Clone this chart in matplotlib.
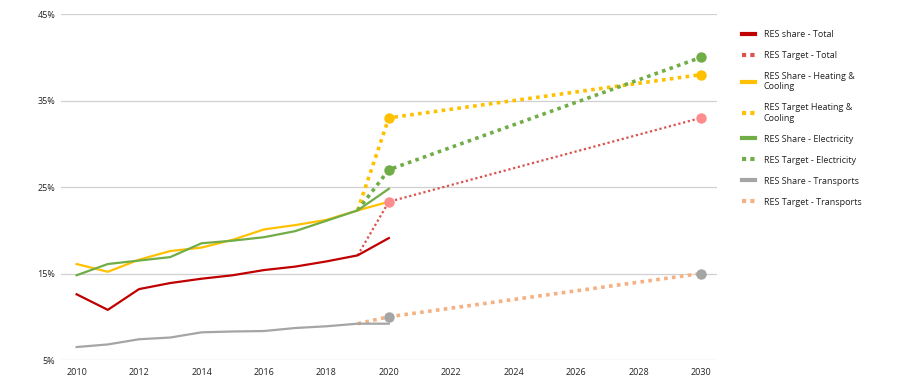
import matplotlib
matplotlib.use("Agg")
import matplotlib.pyplot as plt
import numpy as np
from matplotlib.lines import Line2D

plt.rcParams['font.family'] = ['Open Sans', 'DejaVu Sans']

years = list(range(2010, 2021))
share_total = [12.6, 10.8, 13.2, 13.9, 14.4, 14.8, 15.4, 15.8, 16.4, 17.1, 19.1]
share_heat = [16.1, 15.2, 16.6, 17.6, 18.0, 18.9, 20.1, 20.6, 21.2, 22.3, 23.3]
share_elec = [14.8, 16.1, 16.5, 16.9, 18.5, 18.8, 19.2, 19.9, 21.1, 22.3, 24.8]
share_trans = [6.5, 6.8, 7.4, 7.6, 8.2, 8.3, 8.35, 8.7, 8.9, 9.2, 9.2]

target_years = [2019, 2020, 2030]
target_total = [17.1, 23.3, 33.0]
target_heat = [22.3, 33.0, 38.0]
target_elec = [22.3, 27.0, 40.0]
target_trans = [9.2, 10.0, 15.0]

labels = ["RES share - Total", "RES Target - Total", "RES Share - Heating &\nCooling",
          "RES Target Heating &\nCooling", "RES Share - Electricity", "RES Target - Electricity",
          "RES Share - Transports", "RES Target - Transports"]

c_total = "#C00000"
c_total_t = "#D9534F"
c_total_m = "#FF8C8C"
c_heat = "#FFC000"
c_elec = "#70AD47"
c_trans = "#A5A5A5"
c_trans_t = "#F4B183"

fig = plt.figure(figsize=(8.97, 3.92), dpi=100)
ax = fig.add_axes([0.068, 0.0816, 0.731, 0.8825])

lw = 1.6
dot = (0, (1, 1.2))
ax.plot(years, share_total, color=c_total, lw=lw, zorder=3)
ax.plot(years, share_heat, color=c_heat, lw=lw, zorder=3)
ax.plot(years, share_elec, color=c_elec, lw=lw, zorder=3)
ax.plot(years, share_trans, color=c_trans, lw=lw, zorder=3)

def target(vals, lcolor, mcolor, w):
    ax.plot(target_years, vals, color=lcolor, lw=w, linestyle=dot, dash_capstyle='butt', zorder=2)
    ax.plot(target_years[1:], vals[1:], linestyle='none', marker='o', markersize=7.5,
            color=mcolor, markeredgewidth=0, zorder=4)

target(target_total, c_total_t, c_total_m, 1.6)
target(target_heat, c_heat, c_heat, 2.6)
target(target_elec, c_elec, c_elec, 2.6)
target(target_trans, c_trans_t, c_trans, 2.6)

ax.set_xlim(2009.5, 2030.5)
ax.set_ylim(5, 45)
ax.set_yticks([5, 15, 25, 35, 45])
ax.set_yticklabels([f"{v}%" for v in [5, 15, 25, 35, 45]])
ax.set_xticks(list(range(2010, 2031, 2)))
ax.tick_params(axis='both', length=0, labelsize=6.5, colors='#222222')
ax.tick_params(axis='x', pad=6)
ax.tick_params(axis='y', pad=4)
ax.grid(axis='y', color='#D0D0D0', lw=0.9)
ax.set_axisbelow(True)
for s in ax.spines.values():
    s.set_visible(False)

dl = (0, (1, 1))
handles = [
    Line2D([], [], color=c_total, lw=3),
    Line2D([], [], color=c_total_t, lw=3, linestyle=dl, dash_capstyle='butt'),
    Line2D([], [], color=c_heat, lw=3),
    Line2D([], [], color=c_heat, lw=3, linestyle=dl, dash_capstyle='butt'),
    Line2D([], [], color=c_elec, lw=3),
    Line2D([], [], color=c_elec, lw=3, linestyle=dl, dash_capstyle='butt'),
    Line2D([], [], color=c_trans, lw=3),
    Line2D([], [], color=c_trans_t, lw=3, linestyle=dl, dash_capstyle='butt'),
]
fig.legend(handles, labels, loc='upper left', bbox_to_anchor=(0.818, 0.945),
           frameon=False, fontsize=6.5, handlelength=1.4, handletextpad=1.0,
           labelspacing=1.33, labelcolor='#222222')

fig.savefig("out.png", dpi=100)
